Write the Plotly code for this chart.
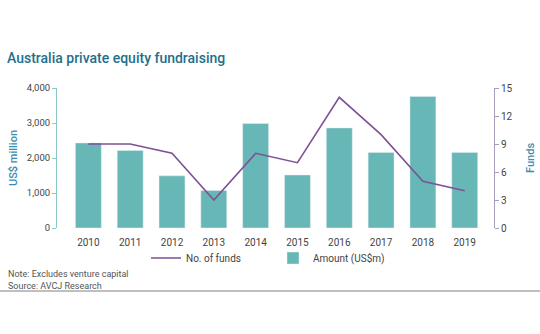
import plotly.graph_objects as go

years = ["2010", "2011", "2012", "2013", "2014", "2015", "2016", "2017", "2018", "2019"]
amount = [2430, 2215, 1490, 1070, 2985, 1515, 2860, 2160, 3760, 2160]
funds = [9, 9, 8, 3, 8, 7, 14, 10, 5, 4]
left_ticks = [0, 1000, 2000, 3000, 4000]
left_labels = ["0", "1,000", "2,000", "3,000", "4,000"]
right_ticks = [0, 3, 6, 9, 12, 15]

TEAL = "#66b7b5"
PURPLE = "#7e5196"
TXT = "#444444"
FONT = "Roboto"

fig = go.Figure()
fig.add_trace(go.Scatter(x=years, y=funds, name="No. of funds", mode="lines",
                         line=dict(color=PURPLE, width=1.6), yaxis="y2"))
fig.add_trace(go.Bar(x=years, y=amount, name="Amount (US$m)", marker_color=TEAL,
                     width=0.62, yaxis="y"))

L, R, T, B = 57, 46, 88, 106
pw = 540 - L - R
ph = 334 - T - B

def px_x(p):
    return (p - L) / pw

def px_y(p):
    return (334 - B - p) / ph

fig.update_layout(
    width=540, height=334,
    margin=dict(l=L, r=R, t=T, b=B),
    paper_bgcolor="white", plot_bgcolor="white",
    font=dict(family=FONT, size=10, color=TXT),
    title=dict(text="Australia private equity fundraising", x=7/540, xanchor="left",
               y=1-58/334, yanchor="middle", yref="container",
               font=dict(family=FONT, size=14, color="#1f6f8c", weight=500)),
    xaxis=dict(type="category", range=[-0.75, 9.7], showline=False, ticks="outside",
               ticklen=5, tickcolor="rgba(0,0,0,0)",
               tickfont=dict(size=10, color=TXT), showgrid=False, fixedrange=True),
    yaxis=dict(range=[0, 4000], tickvals=left_ticks, ticktext=left_labels,
               showgrid=False, showline=True, linecolor="#8ccac8", linewidth=1,
               ticks="outside", ticklen=4, tickcolor="#8ccac8", zeroline=False,
               tickfont=dict(size=9.5, color=TXT)),
    yaxis2=dict(range=[0, 15], tickvals=right_ticks, overlaying="y", side="right",
                showgrid=False, showline=True, linecolor="#a99cbb", linewidth=1,
                ticks="outside", ticklen=4, tickcolor="#a99cbb", zeroline=False,
                tickfont=dict(size=10, color=TXT)),
    bargap=0.38,
    showlegend=True,
    legend=dict(orientation="h", x=px_x(146), y=px_y(258), xanchor="left", yanchor="middle",
                font=dict(size=10, color=TXT), traceorder="normal",
                entrywidth=82, entrywidthmode="pixels", itemwidth=30,
                bgcolor="rgba(0,0,0,0)"),
)

fig.add_annotation(text="US$ million", textangle=-90, x=px_x(13), y=px_y(158),
                   xref="paper", yref="paper", xanchor="center", yanchor="middle",
                   showarrow=False,
                   font=dict(family=FONT, size=11, color="#3b8db0", weight=500))
fig.add_annotation(text="Funds", textangle=-90, x=px_x(530), y=px_y(158),
                   xref="paper", yref="paper", xanchor="center", yanchor="middle",
                   showarrow=False,
                   font=dict(family=FONT, size=11, color="#3b8db0", weight=500))
fig.add_annotation(text="Note: Excludes venture capital<br>Source: AVCJ Research",
                   x=px_x(6), y=px_y(267), xref="paper", yref="paper",
                   xanchor="left", yanchor="top", align="left", showarrow=False,
                   font=dict(family=FONT, size=9, color="#555555"))
fig.add_shape(type="line", xref="paper", yref="paper", x0=px_x(0), x1=px_x(540),
              y0=px_y(291), y1=px_y(291), line=dict(color="#aaaaaa", width=1.5))

fig.write_html("out.html")
